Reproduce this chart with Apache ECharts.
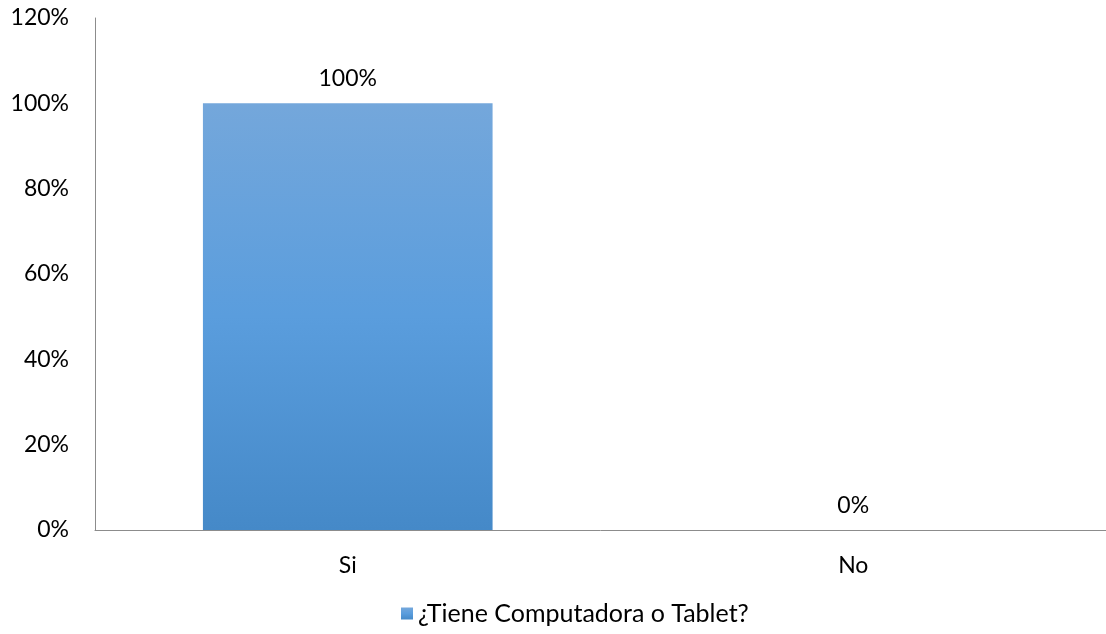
<!DOCTYPE html>
<html>
<head>
<meta charset="utf-8">
<script src="https://cdn.jsdelivr.net/npm/echarts@6/dist/echarts.min.js"></script>
<style>
  html, body { margin: 0; padding: 0; background: #fff; }
  #chart { width: 1106px; height: 634px; }
</style>
</head>
<body>
<div id="chart"></div>
<script>
// Survey answers and their share of respondents (%)
const categories = ['Si', 'No'];
const values = [100, 0];
const seriesName = '¿Tiene Computadora o Tablet?';
const yTicks = { min: 0, max: 120, interval: 20 };

const font = 'Lato, "Open Sans", sans-serif';

const chart = echarts.init(document.getElementById('chart'));
chart.setOption({
  animation: false,
  grid: { left: 95, right: -9, top: 18, bottom: 104 },
  legend: {
    bottom: 3,
    left: 396,
    itemWidth: 12,
    itemHeight: 12,
    itemGap: 8,
    icon: 'rect',
    textStyle: { fontFamily: font, fontSize: 25, color: '#000' },
    data: [seriesName]
  },
  xAxis: {
    type: 'category',
    data: categories,
    axisLine: { lineStyle: { color: '#8c8c8c', width: 1 } },
    axisTick: { show: false },
    axisLabel: { margin: 24, fontFamily: font, fontSize: 23, color: '#000' }
  },
  yAxis: {
    type: 'value',
    min: yTicks.min,
    max: yTicks.max,
    interval: yTicks.interval,
    axisLine: { show: true, lineStyle: { color: '#8c8c8c', width: 1 } },
    axisTick: { show: false },
    splitLine: { show: false },
    axisLabel: {
      margin: 26,
      fontFamily: font,
      fontSize: 23,
      color: '#000',
      formatter: v => v + '%'
    }
  },
  series: [{
    name: seriesName,
    type: 'bar',
    data: values,
    barWidth: '57.3%',
    itemStyle: {
      color: new echarts.graphic.LinearGradient(0, 0, 0, 1, [
        { offset: 0, color: '#74a7db' },
        { offset: 0.5, color: '#5a9ddd' },
        { offset: 1, color: '#4589c8' }
      ])
    },
    label: {
      show: true,
      position: 'top',
      distance: 13,
      fontFamily: font,
      fontSize: 23,
      color: '#000',
      formatter: p => p.value + '%'
    }
  }]
});
</script>
</body>
</html>
